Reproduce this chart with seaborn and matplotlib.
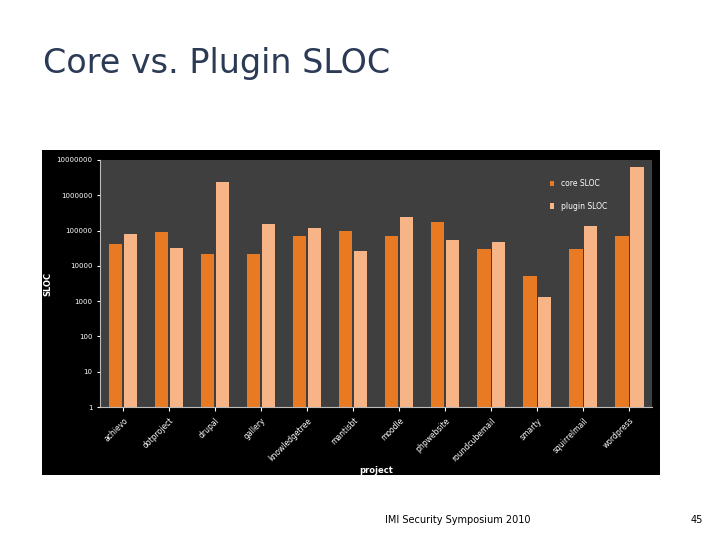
import matplotlib
matplotlib.use("Agg")
import matplotlib.pyplot as plt
import seaborn as sns
import pandas as pd
from matplotlib.patches import Rectangle

projects = ["achievo", "dotproject", "drupal", "gallery", "knowledgetree", "mantisbt",
            "moodle", "phpwebsite", "roundcubemail", "smarty", "squirrelmail", "wordpress"]
core_sloc = [42000, 88000, 22000, 22000, 68000, 95000, 72000, 175000, 29000, 5000, 29000, 72000]
plugin_sloc = [82000, 33000, 2300000, 150000, 120000, 27000, 240000, 55000, 48000, 1300, 135000, 6300000]
yticks = [1, 10, 100, 1000, 10000, 100000, 1000000, 10000000]

df = pd.DataFrame({
    "project": projects * 2,
    "SLOC": core_sloc + plugin_sloc,
    "series": ["core SLOC"] * len(projects) + ["plugin SLOC"] * len(projects),
})

fig = plt.figure(figsize=(7.2, 5.4), dpi=100)
fig.patch.set_facecolor("white")
fig.patches.append(Rectangle((0.058, 0.12), 0.859, 0.602, transform=fig.transFigure,
                             facecolor="black", edgecolor="none", zorder=-5))
fig.text(0.06, 0.865, "Core vs. Plugin SLOC", fontsize=24, color="#2b3a55",
         family="DejaVu Sans")
fig.text(0.636, 0.031, "IMI Security Symposium 2010", fontsize=7, ha="center", color="black")
fig.text(0.968, 0.031, "45", fontsize=7, ha="center", color="black")

ax = fig.add_axes([0.139, 0.246, 0.767, 0.458])
ax.set_zorder(5)
ax.set_facecolor("#3f3f3f")
sns.barplot(data=df, x="project", y="SLOC", hue="series", ax=ax,
            palette=["#e87a24", "#f7b487"], width=0.65, gap=0.1, saturation=1)
ax.set_yscale("log")
ax.set_ylim(1, 10000000)
ax.set_yticks(yticks)
ax.set_yticklabels([str(v) for v in yticks], fontsize=5, color="white")
ax.minorticks_off()
ax.tick_params(axis="x", colors="white", labelsize=5.5, labelrotation=45, length=3)
ax.tick_params(axis="y", colors="white", length=2)
for lbl in ax.get_xticklabels():
    lbl.set_ha("right")
    lbl.set_rotation_mode("anchor")
ax.set_xlabel("project", color="white", fontsize=6, fontweight="bold", labelpad=2)
ax.set_ylabel("SLOC", color="white", fontsize=6, fontweight="bold", labelpad=3)
for s in ["top", "right"]:
    ax.spines[s].set_visible(False)
for s in ["left", "bottom"]:
    ax.spines[s].set_color("#bbbbbb")
leg = ax.legend(loc="upper right", bbox_to_anchor=(0.93, 0.95), frameon=False,
                fontsize=5.5, labelcolor="white", handlelength=0.6, labelspacing=1.8)
fig.savefig("out.png", dpi=100)
